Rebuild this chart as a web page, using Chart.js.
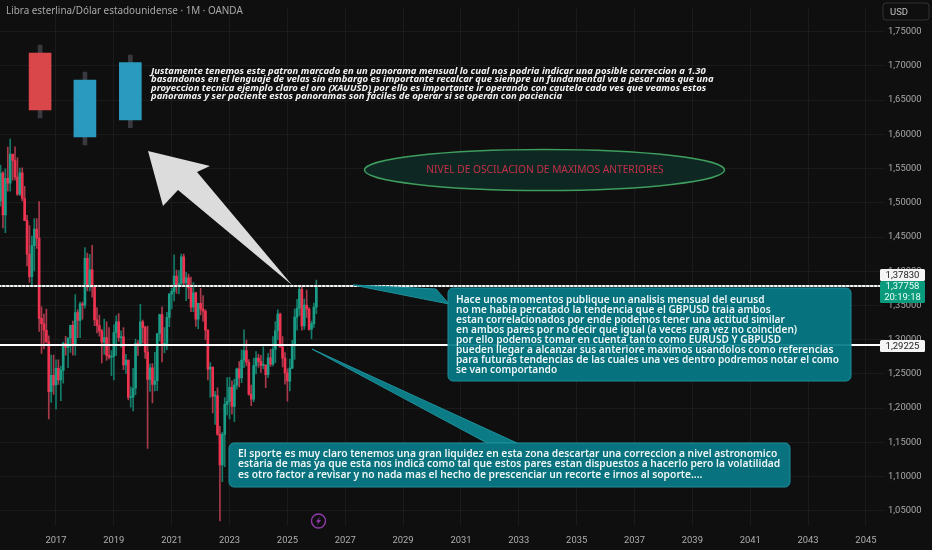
<!DOCTYPE html>
<html>
<head>
<meta charset="utf-8">
<title>GBPUSD 1M</title>
<script src="https://cdn.jsdelivr.net/npm/chart.js@4/dist/chart.umd.min.js"></script>
<style>
  html, body { margin: 0; padding: 0; background: #0f0f0f; overflow: hidden; }
  canvas { display: block; }
</style>
</head>
<body>
<canvas id="chart" width="932" height="550"></canvas>
<script>
// monthly candles, first one is feb 2015
var candleStartYear = 2015, candleStartMonth = 2;
var opens = [1.5026,1.5433,1.4824,1.5356,1.5285,1.5712,1.5618,1.5375,1.5127,1.5437,1.5063,
  1.4739,1.4250,1.3920,1.4375,1.4615,1.4484,1.3312,1.3235,1.3137,1.2969,1.2240,1.2480,
  1.2340,1.2580,1.2410,1.2550,1.2945,1.2885,1.3025,1.3210,1.2930,1.3395,1.3280,1.3525,
  1.3505,1.4190,1.3770,1.4020,1.3770,1.3290,1.3205,1.3125,1.2965,1.3030,1.2770,1.2745,
  1.2755,1.3105,1.3260,1.3030,1.3040,1.2630,1.2700,1.2155,1.2160,1.2290,1.2945,1.2920,
  1.3260,1.3180,1.2820,1.2420,1.2590,1.2345,1.2400,1.3090,1.3365,1.2920,1.2945,1.3325,
  1.3670,1.3705,1.3930,1.3780,1.3820,1.4210,1.3830,1.3905,1.3755,1.3475,1.3685,1.3300,
  1.3530,1.3445,1.3415,1.3140,1.2570,1.2600,1.2175,1.2180,1.1620,1.1170,1.1615,1.2055,
  1.2095,1.2305,1.2025,1.2335,1.2575,1.2440,1.2700,1.2840,1.2670,1.2200,1.2130,1.2620,
  1.2730,1.2680,1.2625,1.2625,1.2490,1.2735,1.2640,1.2860,1.3130,1.3375,1.2890,1.2730,
  1.2515,1.2395,1.2585,1.2915,1.3330,1.3460,1.3735,1.3200,1.3505,1.3445,1.3150,1.3235,
  1.3475];
var highs = [1.5551,1.5457,1.5498,1.5815,1.5930,1.5690,1.5819,1.5659,1.5508,1.5509,1.5242,
  1.4815,1.4668,1.4515,1.4770,1.4769,1.5018,1.3480,1.3372,1.3445,1.3056,1.2775,1.2775,
  1.2706,1.2706,1.2615,1.2965,1.3048,1.3014,1.3212,1.3270,1.3657,1.3435,1.3550,1.3550,
  1.4345,1.4265,1.4245,1.4377,1.3620,1.3470,1.3360,1.3150,1.3300,1.3260,1.3175,1.2840,
  1.3215,1.3350,1.3380,1.3130,1.3175,1.2785,1.2700,1.2310,1.2580,1.3010,1.2985,1.3515,
  1.3285,1.3200,1.3200,1.2645,1.2650,1.2815,1.3090,1.3375,1.3480,1.3175,1.3400,1.3670,
  1.3750,1.4240,1.4017,1.4010,1.4250,1.4250,1.3985,1.3960,1.3915,1.3835,1.3695,1.3535,
  1.3750,1.3645,1.3440,1.3145,1.2665,1.2600,1.2245,1.2295,1.1735,1.1645,1.2155,1.2445,
  1.2450,1.2400,1.2425,1.2585,1.2680,1.2850,1.3145,1.2995,1.2710,1.2335,1.2730,1.2825,
  1.2785,1.2770,1.2895,1.2635,1.2800,1.2860,1.3045,1.3265,1.3435,1.3390,1.3045,1.2810,
  1.2575,1.2715,1.2990,1.3445,1.3590,1.3790,1.3790,1.3595,1.3725,1.3470,1.3270,1.3535,
  1.3870];
var lows = [1.4951,1.4634,1.4565,1.5170,1.5170,1.5330,1.5330,1.5107,1.5107,1.5026,1.4743,
  1.4079,1.3836,1.3798,1.4006,1.4332,1.3122,1.2798,1.2866,1.2954,1.1841,1.2083,1.2200,
  1.1983,1.2345,1.2109,1.2365,1.2775,1.2590,1.2812,1.2775,1.2775,1.3030,1.3030,1.3300,
  1.3460,1.3713,1.3712,1.3620,1.3204,1.3100,1.3050,1.2660,1.2785,1.2695,1.2720,1.2475,
  1.2410,1.2770,1.2975,1.2890,1.2560,1.2505,1.2120,1.2015,1.1960,1.2195,1.2770,1.2905,
  1.2950,1.2725,1.1410,1.2245,1.2075,1.2250,1.2255,1.2980,1.2675,1.2805,1.2855,1.3190,
  1.3450,1.3565,1.3675,1.3670,1.3800,1.3785,1.3570,1.3600,1.3410,1.3410,1.3195,1.3160,
  1.3360,1.3270,1.3000,1.2410,1.2155,1.1930,1.1760,1.1600,1.0350,1.0925,1.1145,1.1900,
  1.1840,1.1915,1.1800,1.2275,1.2310,1.2370,1.2590,1.2615,1.2190,1.2035,1.2095,1.2500,
  1.2595,1.2520,1.2575,1.2300,1.2445,1.2610,1.2615,1.2665,1.3000,1.2910,1.2600,1.2350,
  1.2100,1.2250,1.2575,1.2710,1.3140,1.3355,1.3140,1.3150,1.3325,1.3140,1.3010,1.3180,
  1.3380];
var closes = [1.5433,1.4824,1.5356,1.5285,1.5712,1.5618,1.5375,1.5127,1.5437,1.5063,1.4739,
  1.4250,1.3920,1.4375,1.4615,1.4484,1.3312,1.3235,1.3137,1.2969,1.2240,1.2480,1.2340,
  1.2580,1.2410,1.2550,1.2945,1.2885,1.3025,1.3210,1.2930,1.3395,1.3280,1.3525,1.3505,
  1.4190,1.3770,1.4020,1.3770,1.3290,1.3205,1.3125,1.2965,1.3030,1.2770,1.2745,1.2755,
  1.3105,1.3260,1.3030,1.3040,1.2630,1.2700,1.2155,1.2160,1.2290,1.2945,1.2920,1.3260,
  1.3180,1.2820,1.2420,1.2590,1.2345,1.2400,1.3090,1.3365,1.2920,1.2945,1.3325,1.3670,
  1.3705,1.3930,1.3780,1.3820,1.4210,1.3830,1.3905,1.3755,1.3475,1.3685,1.3300,1.3530,
  1.3445,1.3415,1.3140,1.2570,1.2600,1.2175,1.2180,1.1620,1.1170,1.1615,1.2055,1.2095,
  1.2305,1.2025,1.2335,1.2575,1.2440,1.2700,1.2840,1.2670,1.2200,1.2130,1.2620,1.2730,
  1.2680,1.2625,1.2625,1.2490,1.2735,1.2640,1.2860,1.3130,1.3375,1.2890,1.2730,1.2515,
  1.2395,1.2585,1.2915,1.3330,1.3460,1.3735,1.3200,1.3505,1.3445,1.3150,1.3235,1.3475,
  1.3776];

// the three big candles drawn by hand on the chart
var bigTimes = [2016.45, 2018.0, 2019.57];
var bigBodyLow = [1.6356, 1.5961, 1.6210];
var bigBodyHigh = [1.7189, 1.6794, 1.7047];
var bigWickLow = [1.6239, 1.5844, 1.6097];
var bigWickHigh = [1.7306, 1.6911, 1.7160];

var levelHigh = 1.37830;
var levelLow = 1.29225;
var lastPrice = 1.37758;
var countdown = '20:19:18';

var yearTicks = [2017,2019,2021,2023,2025,2027,2029,2031,2033,2035,2037,2039,2041,2043,2045];
var priceTicks = [1.05,1.10,1.15,1.20,1.25,1.30,1.35,1.40,1.45,1.50,1.55,1.60,1.65,1.70,1.75];

var chartTitle = 'Libra esterlina/D\u00f3lar estadounidense \u00b7 1M \u00b7 OANDA';
var ellipseText = 'NIVEL DE OSCILACION DE MAXIMOS ANTERIORES';
var noteTop = [
  'Justamente tenemos este patron marcado en un panorama mensual lo cual nos podria indicar una posible correccion a 1.30',
  'basandonos en el lenguaje de velas sin embargo es importante recalcar que siempre un fundamental va a pesar mas que una',
  'proyeccion tecnica ejemplo claro el oro (XAUUSD) por ello es importante ir operando con cautela cada ves que veamos estos',
  'panoramas y ser paciente estos panoramas son faciles de operar si se operan con paciencia'
];
var noteRight = [
  'Hace unos momentos publique un analisis mensual del eurusd',
  'no me habia percatado la tendencia que el GBPUSD traia ambos',
  'estan correlacionados por ende podemos tener una actitud similar',
  'en ambos pares por no decir que igual (a veces rara vez no coinciden)',
  'por ello podemos tomar en cuenta tanto como EURUSD Y GBPUSD',
  'pueden llegar a alcanzar sus anteriore maximos usandolos como referencias',
  'para futuras tendencias de las cuales una ves dentro podremos notar el como',
  'se van comportando'
];
var noteBottom = [
  'El sporte es muy claro tenemos una gran liquidez en esta zona descartar una correccion a nivel astronomico',
  'estaria de mas ya que esta nos indica como tal que estos pares estan dispuestos a hacerlo pero la volatilidad',
  'es otro factor a revisar y no nada mas el hecho de prescenciar un recorte e irnos al soporte....'
];

var upColor = '#1a9c86', downColor = '#ee3350';
var upWick = '#137a68', downWick = '#a83a4c';
var font = '"Noto Sans", sans-serif';
var axisFont = 'Roboto, sans-serif';

function candleTime(i) {
  return candleStartYear + (candleStartMonth - 1 + i) / 12;
}
function price(v) {
  return v.toFixed(5).replace('.', ',');
}

var bodies = [], wicks = [], bodyColors = [], wickColors = [];
for (var i = 0; i < opens.length; i++) {
  bodies.push({ x: candleTime(i), y: [opens[i], closes[i]] });
  wicks.push({ x: candleTime(i), y: [lows[i], highs[i]] });
  bodyColors.push(closes[i] >= opens[i] ? upColor : downColor);
  wickColors.push(closes[i] >= opens[i] ? upWick : downWick);
}

function rounded(ctx, x, y, w, h, r) {
  ctx.beginPath();
  ctx.roundRect(x, y, w, h, r);
}
function poly(ctx, pts, fill) {
  ctx.beginPath();
  ctx.moveTo(pts[0][0], pts[0][1]);
  for (var i = 1; i < pts.length; i++) ctx.lineTo(pts[i][0], pts[i][1]);
  ctx.closePath();
  ctx.fillStyle = fill;
  ctx.fill();
}
function lines(ctx, arr, x, y, step, fnt, color) {
  ctx.font = fnt;
  ctx.fillStyle = color;
  ctx.textAlign = 'left';
  ctx.textBaseline = 'middle';
  arr.forEach(function (t, k) { ctx.fillText(t, x, y + k * step); });
}
function priceTag(ctx, y, h, bg, fg, rows) {
  ctx.fillStyle = bg;
  rounded(ctx, 880, y, 45, h, 1.5);
  ctx.fill();
  ctx.fillStyle = fg;
  ctx.font = '9.5px ' + axisFont;
  ctx.textAlign = 'center';
  ctx.textBaseline = 'middle';
  rows.forEach(function (t, k) {
    ctx.fillText(t, 902.5, y + (h / rows.length) * (k + 0.5) + 0.5);
  });
}

// arrow, ellipse, callouts and the labels on the price axis
var overlay = {
  id: 'overlay',
  afterDatasetsDraw: function (chart) {
    var ctx = chart.ctx;
    ctx.save();

    // big arrow
    poly(ctx, [[148,151],[210,166],[197,172],[292,285],[178,190],[163,206]], '#dcdcdc');

    // ellipse
    ctx.beginPath();
    ctx.ellipse(544.5, 170, 180, 20.5, 0, 0, Math.PI * 2);
    ctx.fillStyle = '#0e2722';
    ctx.fill();
    ctx.lineWidth = 1.5;
    ctx.strokeStyle = '#3f9d5e';
    ctx.stroke();
    ctx.font = '10.2px ' + font;
    ctx.fillStyle = '#c4304a';
    ctx.textAlign = 'center';
    ctx.textBaseline = 'middle';
    ctx.fillText(ellipseText, 545, 170);

    // callout tails
    ctx.lineWidth = 1;
    ctx.strokeStyle = '#1d909b';
    poly(ctx, [[353,285],[436,289],[449,304]], '#0b7b86');
    ctx.stroke();
    poly(ctx, [[312,349],[487,443],[517,443]], '#0b7b86');
    ctx.stroke();

    // callouts
    ctx.fillStyle = 'rgba(5,122,134,0.93)';
    rounded(ctx, 448, 288, 403, 93, 5);
    ctx.fill();
    ctx.stroke();
    rounded(ctx, 229, 443, 561, 44, 5);
    ctx.fillStyle = '#08727e';
    ctx.fill();
    ctx.stroke();

    lines(ctx, noteRight, 456, 300, 10, '600 10.15px ' + font, '#eef6f6');
    lines(ctx, noteBottom, 238, 454, 10.5, '600 10.28px ' + font, '#eef6f6');
    lines(ctx, noteTop, 151, 71, 8.55, 'italic bold 9.5px ' + font, '#f2f2f2');

    // lightning badge
    ctx.beginPath();
    ctx.arc(318.5, 521, 7, 0, Math.PI * 2);
    ctx.lineWidth = 1.4;
    ctx.strokeStyle = '#8e3aa8';
    ctx.stroke();
    poly(ctx, [[320,516.5],[316,522],[318.3,522],[317,525.5],[321,520],[318.7,520]], '#8e3aa8');

    // title and currency button
    ctx.font = '9.9px ' + font;
    ctx.fillStyle = '#a9a9a9';
    ctx.textAlign = 'left';
    ctx.textBaseline = 'middle';
    ctx.fillText(chartTitle, 6, 11.5);

    ctx.lineWidth = 1;
    ctx.strokeStyle = '#333';
    rounded(ctx, 883, 3, 46, 17, 3);
    ctx.stroke();
    ctx.font = '9.5px ' + axisFont;
    ctx.fillStyle = '#c0c0c0';
    ctx.fillText('USD', 890, 12.5);

    priceTag(ctx, 269, 12, '#f4f4f4', '#222', [price(levelHigh)]);
    priceTag(ctx, 281, 22, '#0a9a7c', '#eafff8', [price(lastPrice), countdown]);
    priceTag(ctx, 340, 12, '#f4f4f4', '#222', [price(levelLow)]);
    ctx.restore();
  }
};

new Chart(document.getElementById('chart'), {
  type: 'bar',
  data: {
    datasets: [
      { type: 'line', data: [{ x: 2015, y: levelHigh }, { x: 2046, y: levelHigh }], borderColor: '#eef2f0',
        borderWidth: 2, borderDash: [3, 1], pointRadius: 0, order: 0 },
      { type: 'line', data: [{ x: 2015, y: levelHigh }, { x: 2046, y: levelHigh }], borderColor: '#7e8481',
        borderWidth: 2, pointRadius: 0, order: 0 },
      { type: 'line', data: [{ x: 2015, y: levelLow }, { x: 2046, y: levelLow }], borderColor: '#ffffff',
        borderWidth: 2, pointRadius: 0, order: 0 },
      { data: bodies, backgroundColor: bodyColors, barThickness: 2, grouped: false, minBarLength: 1, order: 1 },
      { data: wicks, backgroundColor: wickColors, barThickness: 1, grouped: false, order: 2 },
      { data: bigTimes.map(function (t, i) { return { x: t, y: [bigBodyLow[i], bigBodyHigh[i]] }; }),
        backgroundColor: ['#d9474b', '#2a9bbf', '#2a9bbf'], barThickness: 22, grouped: false, order: 1 },
      { data: bigTimes.map(function (t, i) { return { x: t, y: [bigWickLow[i], bigWickHigh[i]] }; }),
        backgroundColor: '#38383e', barThickness: 4, grouped: false, order: 2 }
    ]
  },
  plugins: [overlay],
  options: {
    responsive: false,
    animation: false,
    devicePixelRatio: 1,
    layout: { autoPadding: false, padding: 0 },
    plugins: { legend: { display: false }, title: { display: false }, tooltip: { enabled: false } },
    scales: {
      x: {
        type: 'linear',
        offset: false,
        min: 2015.064,
        max: 2045.66,
        afterFit: function (axis) { axis.height = 24; },
        afterBuildTicks: function (axis) {
          axis.ticks = yearTicks.map(function (v) { return { value: v }; });
        },
        grid: { color: '#1b1b1b', drawTicks: false, offset: false },
        border: { display: false },
        ticks: {
          autoSkip: false, maxRotation: 0, padding: 9, color: '#b0b0b0',
          font: { family: 'Roboto', size: 9.4 },
          callback: function (v) { return String(v); }
        }
      },
      y: {
        position: 'right',
        min: 1.0277,
        max: 1.7837,
        afterFit: function (axis) { axis.width = 47; },
        afterBuildTicks: function (axis) {
          axis.ticks = priceTicks.map(function (v) { return { value: v }; });
        },
        grid: { color: '#1b1b1b', drawTicks: false },
        border: { display: false },
        ticks: {
          autoSkip: false, padding: 3, color: '#a8a8a8',
          font: { family: 'Roboto', size: 9.4 },
          callback: function (v) { return price(v); }
        }
      }
    }
  }
});
</script>
</body>
</html>
